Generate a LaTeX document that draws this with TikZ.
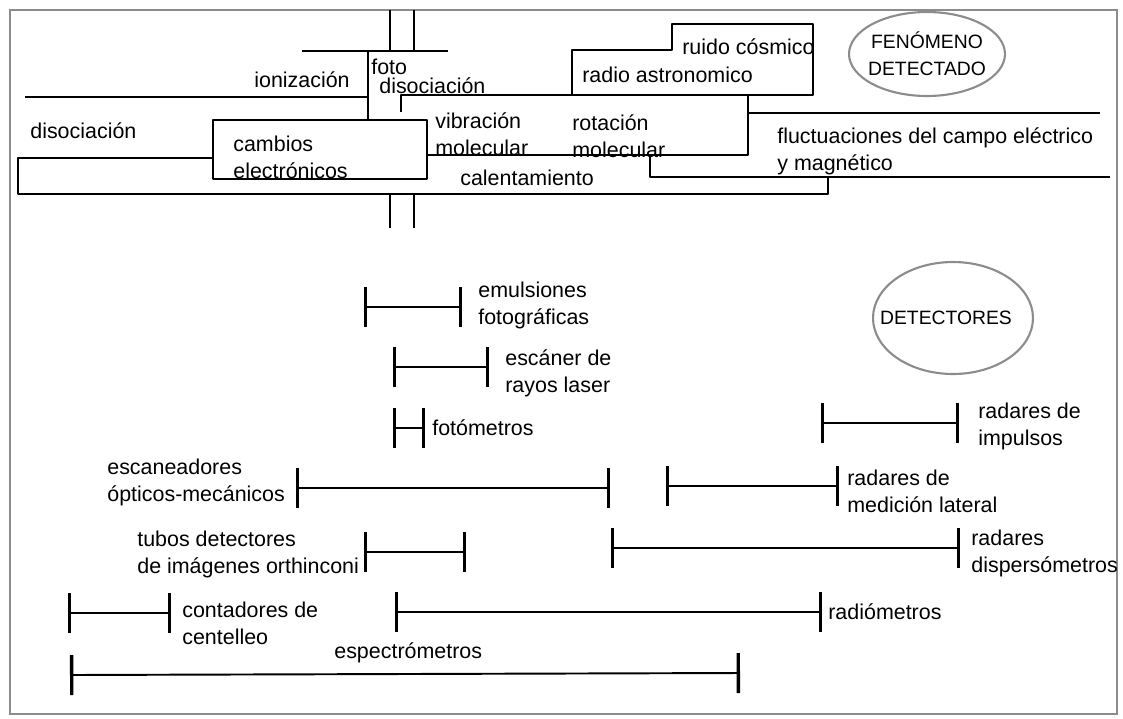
\documentclass[tikz,border=0pt]{standalone}
\usepackage{fontspec}
\setmainfont{Liberation Sans}
\usetikzlibrary{arrows.meta}
\tikzset{>={Bar[width=8mm,line width=1.9pt]}}
\definecolor{Frame}{RGB}{140,140,140}
\tikzset{
	lbl/.style={anchor=west,inner sep=0pt,align=left,font=\fontsize{12.2}{15.4}\selectfont},
	raya/.style={line width=1.4pt,line join=round},
	rango/.style={<->,line width=1.1pt},
	globo/.style={inner sep=0pt,align=center,font=\fontsize{11}{15.4}\selectfont},
	borde/.style={draw=Frame,line width=1.2pt}
}

\begin{document}
\begin{tikzpicture}[x=0.02cm,y=-0.02cm]
		\useasboundingbox (0,0) rectangle (1123,718);
		% border
		\draw[Frame,line width=1.2pt] (10,10) rectangle (1117,714);

		% fenomeno detectado
		\draw[raya] (390,10) -- (390,51);
		\draw[raya] (414,10) -- (414,51);
		\draw[raya] (302,51) -- (448,51);
		\draw[raya] (368,51) -- (368,120);
		\draw[raya] (25,97) -- (368,97);
		\draw[raya] (213,120) rectangle (427,179);
		\draw[raya] (213,158) -- (18,158) -- (18,194) -- (828,194) -- (828,177);
		\draw[raya] (650,155) -- (650,177) -- (1110,177);
		\draw[raya] (427,155) -- (748,155) -- (748,95);
		\draw[raya] (748,113) -- (1100,113);
		\draw[raya] (401,112) -- (401,95) -- (813,95) -- (813,24) -- (672,24) -- (672,50) -- (572,50) -- (572,95);
		\draw[raya] (390,194) -- (390,228);
		\draw[raya] (414,194) -- (414,228);

		\node[lbl] (ioniz) at (254,80) {ionización};
		\node[lbl] (foto) at (371,67) {foto};
		\node[lbl] (disocA) at (379,86) {disociación};
		\node[lbl] (disocB) at (30,131) {disociación};
		\node[lbl] (cambios) at (233,157.5) {cambios\\electrónicos};
		\node[lbl] (vibra) at (435,134) {vibración\\molecular};
		\node[lbl] (rota) at (572,136) {rotación\\molecular};
		\node[lbl] (calor) at (460,178) {calentamiento};
		\node[lbl] (fluct) at (777,151.5) {fluctuaciones del campo eléctrico\\y magnético};
		\node[lbl] (ruido) at (682,47) {ruido cósmico};
		\node[lbl] (radio) at (582,75) {radio astronomico};
		\node[globo] (fenom) at (927,54) {FENÓMENO\\DETECTADO};
		\draw[borde] (fenom.center) ellipse (1.56cm and 0.84cm);

		% detectores
		\node[globo] (detect) at (946,318) {DETECTORES};
		\draw[borde] (953,318) ellipse (1.6cm and 1.12cm);

		\coordinate (emulA) at (364,307); \coordinate (emulB) at (462,307);
		\coordinate (escA) at (393,367); \coordinate (escB) at (489,367);
		\coordinate (fotA) at (393,428); \coordinate (fotB) at (425,428);
		\coordinate (impA) at (821,423); \coordinate (impB) at (959,423);
		\coordinate (omA) at (296,488); \coordinate (omB) at (610,488);
		\coordinate (latA) at (666,486); \coordinate (latB) at (839,486);
		\coordinate (tubA) at (364,552); \coordinate (tubB) at (466,552);
		\coordinate (dispA) at (611,548); \coordinate (dispB) at (960,548);
		\coordinate (contA) at (68,613); \coordinate (contB) at (171,613);
		\coordinate (radA) at (395,612); \coordinate (radB) at (822,612);
		\coordinate (espA) at (70,675); \coordinate (espB) at (740,673);

		\draw[rango] (emulA) -- (emulB);
		\draw[rango] (escA) -- (escB);
		\draw[rango] (fotA) -- (fotB);
		\draw[rango] (impA) -- (impB);
		\draw[rango] (omA) -- (omB);
		\draw[rango] (latA) -- (latB);
		\draw[rango] (tubA) -- (tubB);
		\draw[rango] (dispA) -- (dispB);
		\draw[rango] (contA) -- (contB);
		\draw[rango] (radA) -- (radB);
		\draw[rango] (espA) -- (espB);

		\node[lbl] (emul) at (478,305) {emulsiones\\fotográficas};
		\node[lbl] (esc) at (505,373.5) {escáner de\\rayos laser};
		\node[lbl] (fot) at (432,428) {fotómetros};
		\node[lbl] (imp) at (978,426.5) {radares de\\impulsos};
		\node[lbl] (om) at (107,482) {escaneadores\\ópticos-mecánicos};
		\node[lbl] (lat) at (847,491.5) {radares de\\medición lateral};
		\node[lbl] (tub) at (137,554) {tubos detectores\\de imágenes orthinconi};
		\node[lbl] (disp) at (971,553.5) {radares\\dispersómetros};
		\node[lbl] (cont) at (182,623) {contadores de\\centelleo};
		\node[lbl] (rad) at (828,612) {radiómetros};
		\node[lbl] (esp) at (334,653) {espectrómetros};
	\end{tikzpicture}
\end{document}
